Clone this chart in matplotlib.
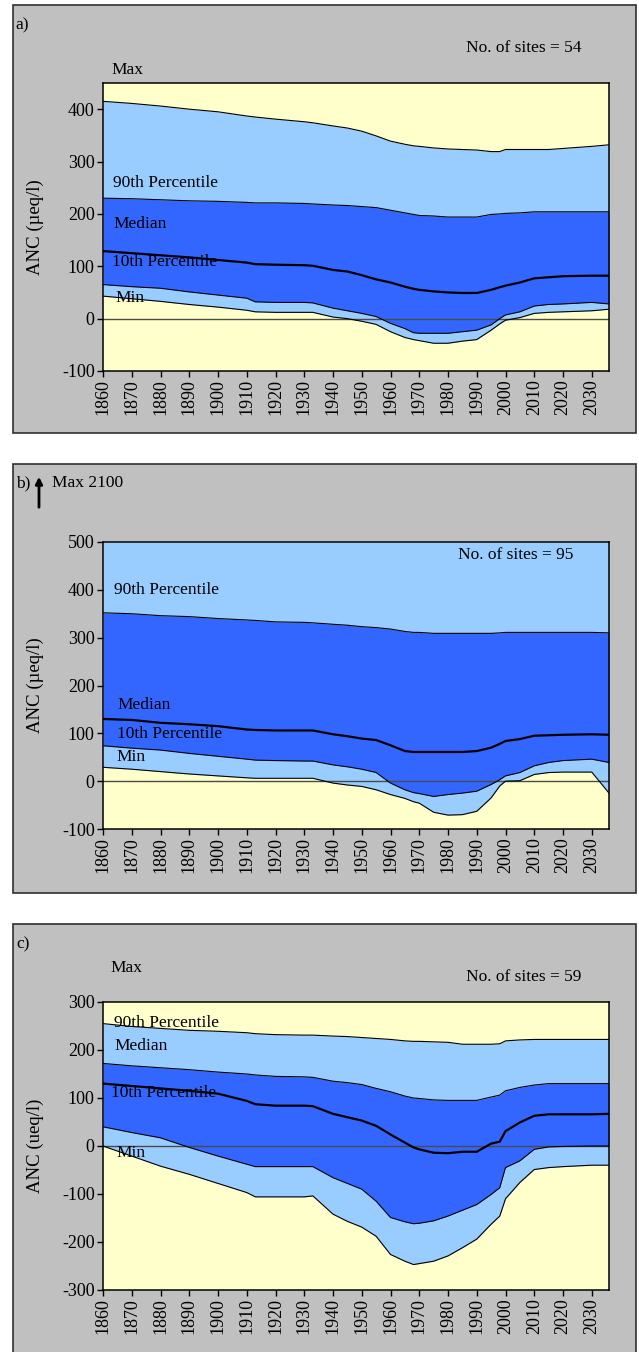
"""ANC percentile bands 1860-2036 for three regions (a, b, c)."""
import matplotlib.pyplot as plt
from matplotlib.patches import Rectangle, FancyArrowPatch

plt.rcParams["font.family"] = ["Liberation Serif", "DejaVu Serif"]
plt.rcParams["axes.unicode_minus"] = False

YELLOW = "#FFFFCC"
LIGHT = "#99CCFF"
DARK = "#3366FF"
GREY = "#C0C0C0"

years = [1860, 1870, 1880, 1890, 1900, 1910, 1913, 1920, 1930, 1933, 1940, 1945,
         1950, 1955, 1960, 1965, 1968, 1970, 1975, 1980, 1985, 1990, 1995, 1998,
         2000, 2005, 2010, 2015, 2020, 2030, 2036]

# panel a, 54 sites
a_max = [415, 411, 406, 400, 395, 387, 385, 381, 376, 374, 368, 364, 358, 349, 339, 333,
         330, 329, 326, 324, 323, 322, 319, 319, 323, 323, 323, 323, 325, 329, 332]
a_p90 = [230, 229, 227, 225, 224, 222, 221, 221, 220, 219, 217, 216, 214, 212, 207, 202,
         199, 197, 196, 194, 194, 194, 199, 200, 201, 202, 204, 204, 204, 204, 204]
a_med = [129, 125, 121, 117, 112, 107, 104, 103, 102, 101, 93, 90, 83, 75, 69, 61,
         57, 55, 52, 50, 49, 49, 55, 60, 63, 69, 77, 79, 81, 82, 82]
a_p10 = [65, 61, 58, 51, 45, 39, 32, 31, 31, 30, 20, 15, 10, 4, -9, -19,
         -27, -28, -28, -28, -25, -22, -12, 0, 7, 13, 24, 27, 28, 31, 28]
a_min = [43, 38, 33, 27, 22, 16, 13, 12, 12, 12, 3, 0, -5, -11, -25, -36,
         -40, -42, -47, -47, -43, -40, -22, -10, -3, 2, 10, 12, 13, 15, 18]

# panel b, 95 sites (max off scale at 2100)
b_p90 = [352, 350, 346, 344, 340, 337, 336, 333, 332, 331, 328, 326, 323, 321, 318, 313,
         311, 311, 309, 309, 309, 309, 309, 310, 311, 311, 311, 311, 311, 311, 310]
b_med = [130, 128, 122, 119, 115, 108, 107, 106, 106, 106, 98, 94, 89, 86, 75, 63,
         61, 61, 61, 61, 61, 63, 70, 78, 84, 88, 95, 96, 97, 98, 97]
b_p10 = [74, 69, 65, 58, 52, 46, 44, 43, 42, 42, 34, 30, 25, 18, -4, -18,
         -24, -26, -32, -28, -25, -21, -7, 3, 11, 18, 32, 39, 43, 46, 39]
b_min = [29, 25, 20, 15, 11, 7, 6, 6, 6, 6, -4, -8, -11, -18, -28, -36,
         -43, -46, -65, -71, -70, -63, -35, -10, 0, 1, 14, 18, 19, 19, -25]

# panel c, 59 sites
c_max = [255, 249, 245, 241, 239, 236, 234, 232, 231, 231, 229, 228, 226, 224, 222, 219,
         218, 218, 217, 216, 212, 212, 212, 213, 219, 221, 222, 222, 222, 222, 222]
c_p90 = [172, 167, 163, 159, 154, 150, 148, 145, 144, 143, 135, 132, 128, 120, 113, 104,
         100, 99, 96, 95, 95, 95, 102, 106, 115, 122, 127, 130, 130, 130, 130]
c_med = [130, 125, 120, 115, 109, 94, 87, 84, 84, 83, 67, 60, 53, 42, 24, 7,
         -3, -7, -14, -15, -12, -12, 5, 9, 31, 49, 63, 66, 66, 66, 67]
c_p10 = [40, 28, 17, -3, -21, -38, -43, -43, -43, -43, -66, -78, -90, -115, -149, -158,
         -162, -161, -156, -146, -134, -122, -101, -87, -45, -31, -7, -2, -1, 0, 0]
c_min = [0, -21, -42, -59, -78, -97, -106, -106, -106, -104, -142, -157, -169, -188, -226, -240,
         -247, -245, -240, -229, -212, -194, -163, -146, -110, -76, -49, -45, -43, -40, -40]

W, H = 639, 1352
fig = plt.figure(figsize=(W / 100, H / 100), dpi=100)


def fx(x):
    return x / W


def fy(y):
    return 1 - y / H


def panel_box(top, bottom):
    fig.add_artist(Rectangle((fx(13), fy(bottom)), fx(636) - fx(13), fy(top) - fy(bottom),
                             transform=fig.transFigure, facecolor=GREY,
                             edgecolor="#303030", lw=1.2, zorder=0))


def label(x, y, s, **kw):
    fig.text(fx(x), fy(y), s, ha="left", va="center", fontsize=12.5, **kw)


def make_axes(top, bottom, ylim, yticks, ylabel):
    ax = fig.add_axes([fx(103), fy(bottom), fx(609) - fx(103), fy(top) - fy(bottom)])
    ax.set_facecolor(YELLOW)
    ax.set_xlim(1860, 2036)
    ax.set_ylim(*ylim)
    ax.set_xticks(range(1860, 2031, 10))
    ax.set_yticks(yticks)
    ax.tick_params(direction="out", length=4, width=1, labelsize=13, pad=2)
    ax.tick_params(axis="x", labelrotation=90)
    for sp in ax.spines.values():
        sp.set_linewidth(1.1)
        sp.set_color("black")
    fig.text(fx(35), fy((top + bottom) / 2), ylabel, rotation=90,
             ha="center", va="center", fontsize=13.5)
    return ax


def draw_bands(ax, top, p90, med, p10, low, top_is_line=True):
    ax.fill_between(years, p90, top, color=LIGHT, lw=0, zorder=1)
    ax.fill_between(years, p10, p90, color=DARK, lw=0, zorder=1)
    ax.fill_between(years, low, p10, color=LIGHT, lw=0, zorder=1)
    ax.axhline(0, color="#4a4a4a", lw=1.0, zorder=2)
    if top_is_line:
        ax.plot(years, top, color="black", lw=0.8, zorder=3)
    for s in (p90, p10, low):
        ax.plot(years, s, color="black", lw=0.8, zorder=3)
    ax.plot(years, med, color="black", lw=1.6, zorder=3)


# a)
panel_box(5, 433)
ax = make_axes(83, 371, (-100, 450), range(-100, 401, 100), "ANC (µeq/l)")
draw_bands(ax, a_max, a_p90, a_med, a_p10, a_min)
label(15, 25, "a)")
label(466, 48, "No. of sites = 54")
label(111, 70, "Max")
label(113, 183, "90th Percentile")
label(113, 224, "Median")
label(112, 262, "10th Percentile")
label(115, 298, "Min")

# b)
panel_box(464, 893)
ax = make_axes(542, 829, (-100, 500), range(-100, 501, 100), "ANC (µeq/l)")
b_top = [500] * len(years)
draw_bands(ax, b_top, b_p90, b_med, b_p10, b_min, top_is_line=False)
label(16, 483, "b)")
fig.add_artist(FancyArrowPatch((fx(39), fy(510)), (fx(39), fy(474)),
                               transform=fig.transFigure, arrowstyle="-|>",
                               mutation_scale=10, lw=2, color="black"))
label(52, 483, "Max 2100")
label(458, 555, "No. of sites = 95")
label(114, 590, "90th Percentile")
label(117, 705, "Median")
label(117, 734, "10th Percentile")
label(116, 757, "Min")

# c)
panel_box(924, 1400)
ax = make_axes(1002, 1290, (-300, 300), range(-300, 301, 100), "ANC (ueq/l)")
draw_bands(ax, c_max, c_p90, c_med, c_p10, c_min)
label(16, 944, "c)")
label(466, 977, "No. of sites = 59")
label(110, 968, "Max")
label(114, 1023, "90th Percentile")
label(114, 1046, "Median")
label(111, 1093, "10th Percentile")
label(116, 1153, "Min")

fig.savefig("out.png", dpi=100, facecolor="white")
